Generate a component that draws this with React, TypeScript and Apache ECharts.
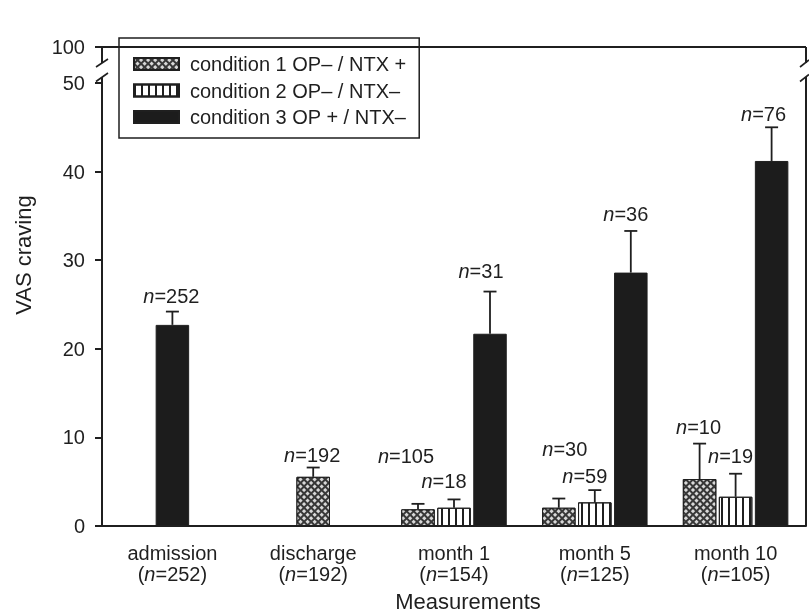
import React, { useEffect, useRef } from 'react';
import * as echarts from 'echarts';

// ---------- data ----------
const categories = ['admission', 'discharge', 'month 1', 'month 5', 'month 10'];
const categoryN = [252, 192, 154, 125, 105];
const conditionNames = [
  'condition 1 OP\u2013 / NTX +',
  'condition 2 OP\u2013 / NTX\u2013',
  'condition 3 OP + / NTX\u2013',
];
const cond1Mean = [null, 5.55, 1.88, 2.06, 5.3];
const cond1Err = [null, 1.05, 0.62, 1.04, 4.0];
const cond1N = [null, 192, 105, 30, 10];
const cond2Mean = [null, null, 2.06, 2.67, 3.3];
const cond2Err = [null, null, 0.94, 1.38, 2.6];
const cond2N = [null, null, 18, 59, 19];
const cond3Mean = [22.7, null, 21.7, 28.6, 41.2];
const cond3Err = [1.5, null, 4.76, 4.7, 3.8];
const cond3N = [252, null, 31, 36, 76];
const yMin = 0;
const yMax = 50;
const yStep = 10;
const brokenTopLabel = '100';

// ---------- layout / style constants ----------
const FONT = "'Liberation Sans', Arial, Helvetica, sans-serif";
const FS = 20;
const INK = '#1f1f1f';
const BAR_W = 33.5;
const BAR_GAP = 2.5;
const SLOT = BAR_W + BAR_GAP;
const CAP_W = 13;
// per condition, per category: [dx px, label centre above error-bar top px]
const LABEL_SHIFT: (number[] | null)[][] = [
  [null, [-1, 13], [-12, 48], [6, 50], [-1, 17]],
  [null, null, [-10, 18], [-10, 14], [-5, 18]],
  [[-1, 16], null, [-9, 21], [-5, 17], [-8, 13]],
];

const means = [cond1Mean, cond2Mean, cond3Mean];
const errs = [cond1Err, cond2Err, cond3Err];
const ns = [cond1N, cond2N, cond3N];

const single = categories.map((_, i) => means.filter((m) => m[i] != null).length <= 1);

const barStyles = [
  {
    color: '#383838',
    borderColor: INK,
    borderWidth: 1,
    decal: {
      symbol: 'rect',
      symbolSize: 1,
      color: '#d8d8d8',
      dashArrayX: [2.2, 1.8],
      dashArrayY: [2.2, 1.8],
      rotation: Math.PI / 4,
    },
  },
  {
    color: '#ffffff',
    borderColor: INK,
    borderWidth: 1,
    decal: {
      symbol: 'rect',
      symbolSize: 1,
      color: INK,
      dashArrayX: [1.3, 4.3],
      dashArrayY: [4, 0],
      rotation: 0,
    },
  },
  { color: '#1c1c1c', borderColor: INK, borderWidth: 1 },
];

type ErrItem = { cat: number; mean: number; err: number; n: number; slot: number; shift: number[] };
const errItems: ErrItem[] = [];
means.forEach((m, c) => {
  m.forEach((v, i) => {
    if (v == null) return;
    errItems.push({
      cat: i,
      mean: v as number,
      err: errs[c][i] as number,
      n: ns[c][i] as number,
      slot: single[i] ? 0 : c - 1,
      shift: LABEL_SHIFT[c][i] || [0, 15],
    });
  });
});

export default function App() {
  const ref = useRef<HTMLDivElement>(null);
  useEffect(() => {
    if (!ref.current) return;
    const chart = echarts.init(ref.current, null, { renderer: 'svg' });

    const series: any[] = [];
    means.forEach((m, c) => {
      series.push({
        type: 'bar',
        name: conditionNames[c],
        xAxisIndex: 0,
        data: m.map((v, i) => (single[i] ? null : v)),
        barWidth: BAR_W,
        barGap: ((BAR_GAP / BAR_W) * 100).toFixed(1) + '%',
        itemStyle: barStyles[c],
        emphasis: { disabled: true },
      });
    });
    means.forEach((m, c) => {
      if (!m.some((v, i) => single[i] && v != null)) return;
      series.push({
        type: 'bar',
        name: conditionNames[c],
        xAxisIndex: 1,
        data: m.map((v, i) => (single[i] ? v : null)),
        barWidth: BAR_W,
        barGap: '-100%',
        itemStyle: barStyles[c],
        emphasis: { disabled: true },
      });
    });
    series.push({
      type: 'custom',
      xAxisIndex: 0,
      yAxisIndex: 0,
      z: 5,
      silent: true,
      data: errItems.map((e) => [e.cat, e.mean + e.err]),
      renderItem: (params: any, api: any) => {
        const e = errItems[params.dataIndex];
        const base = api.coord([e.cat, e.mean]);
        const top = api.coord([e.cat, e.mean + e.err]);
        const x = base[0] + e.slot * SLOT;
        return {
          type: 'group',
          children: [
            {
              type: 'line',
              shape: { x1: x, y1: base[1], x2: x, y2: top[1] },
              style: { stroke: INK, lineWidth: 1.8 },
            },
            {
              type: 'line',
              shape: { x1: x - CAP_W / 2, y1: top[1], x2: x + CAP_W / 2, y2: top[1] },
              style: { stroke: INK, lineWidth: 1.8 },
            },
            {
              type: 'text',
              x: x + e.shift[0],
              y: top[1] - e.shift[1],
              style: {
                text: '{i|n}=' + e.n,
                fill: INK,
                fontSize: FS,
                fontFamily: FONT,
                align: 'center',
                verticalAlign: 'middle',
                rich: { i: { fontStyle: 'italic', fontSize: FS, fontFamily: FONT, fill: INK } },
              },
            },
          ],
        };
      },
    });

    const L = 102, R = 806, T = 47, G = 83;
    const lineStyle = { stroke: INK, lineWidth: 2 };
    const diag = { stroke: INK, lineWidth: 1.6 };

    chart.setOption({
      animation: false,
      grid: { left: L, right: 809 - R, top: G, bottom: 612 - 526, containLabel: false },
      legend: {
        data: conditionNames,
        orient: 'vertical',
        left: 119,
        top: 38,
        icon: 'rect',
        itemWidth: 45,
        itemHeight: 12,
        itemGap: 6.5,
        padding: [16, 13, 11, 14],
        borderColor: INK,
        borderWidth: 1.5,
        selectedMode: false,
        textStyle: { fontSize: FS, fontFamily: FONT, color: INK, padding: [0, 0, 0, 6] },
      },
      xAxis: [
        {
          type: 'category',
          data: categories,
          axisLine: { lineStyle: { color: INK, width: 2 } },
          axisTick: { alignWithLabel: true, length: 7, lineStyle: { color: INK, width: 2 } },
          axisLabel: {
            margin: 16,
            fontSize: FS,
            fontFamily: FONT,
            color: INK,
            lineHeight: 21,
            interval: 0,
            formatter: (v: string, i: number) => `${v}\n({i|n}=${categoryN[i]})`,
            rich: { i: { fontStyle: 'italic', fontSize: FS, fontFamily: FONT, color: INK, lineHeight: 21 } },
          },
        },
        { type: 'category', data: categories, show: false },
      ],
      yAxis: {
        type: 'value',
        min: yMin,
        max: yMax,
        interval: yStep,
        splitLine: { show: false },
        axisLine: { show: true, lineStyle: { color: INK, width: 2 } },
        axisTick: { show: true, length: 7, lineStyle: { color: INK, width: 2 } },
        axisLabel: { margin: 17, fontSize: FS, fontFamily: FONT, color: INK },
      },
      graphic: [
        // top frame line at the broken "100" level
        { type: 'line', shape: { x1: L - 7, y1: T, x2: R, y2: T }, style: lineStyle },
        // left axis continuation with break
        { type: 'line', shape: { x1: L, y1: G, x2: L, y2: 77 }, style: lineStyle },
        { type: 'line', shape: { x1: L, y1: 63, x2: L, y2: T }, style: lineStyle },
        { type: 'line', shape: { x1: 96, y1: 67, x2: 108, y2: 59 }, style: diag },
        { type: 'line', shape: { x1: 96, y1: 81.5, x2: 108, y2: 73 }, style: diag },
        // right frame with break
        { type: 'line', shape: { x1: R, y1: 526, x2: R, y2: 77 }, style: lineStyle },
        { type: 'line', shape: { x1: R, y1: 63, x2: R, y2: T }, style: lineStyle },
        { type: 'line', shape: { x1: 800, y1: 67, x2: 809, y2: 60 }, style: diag },
        { type: 'line', shape: { x1: 800, y1: 81.5, x2: 809, y2: 74.5 }, style: diag },
        {
          type: 'text',
          x: 85,
          y: T,
          style: { text: brokenTopLabel, fontSize: FS, fontFamily: FONT, fill: INK, align: 'right', verticalAlign: 'middle' },
        },
        {
          type: 'text',
          x: 23,
          y: 255,
          rotation: Math.PI / 2,
          style: { text: 'VAS craving', fontSize: 22, fontFamily: FONT, fill: INK, align: 'center', verticalAlign: 'middle' },
        },
        {
          type: 'text',
          x: 468,
          y: 601,
          style: { text: 'Measurements', fontSize: 22, fontFamily: FONT, fill: INK, align: 'center', verticalAlign: 'middle' },
        },
      ],
      series,
    });
    return () => chart.dispose();
  }, []);
  return <div ref={ref} style={{ position: 'fixed', left: 0, top: 0, width: 809, height: 612 }} />;
}
